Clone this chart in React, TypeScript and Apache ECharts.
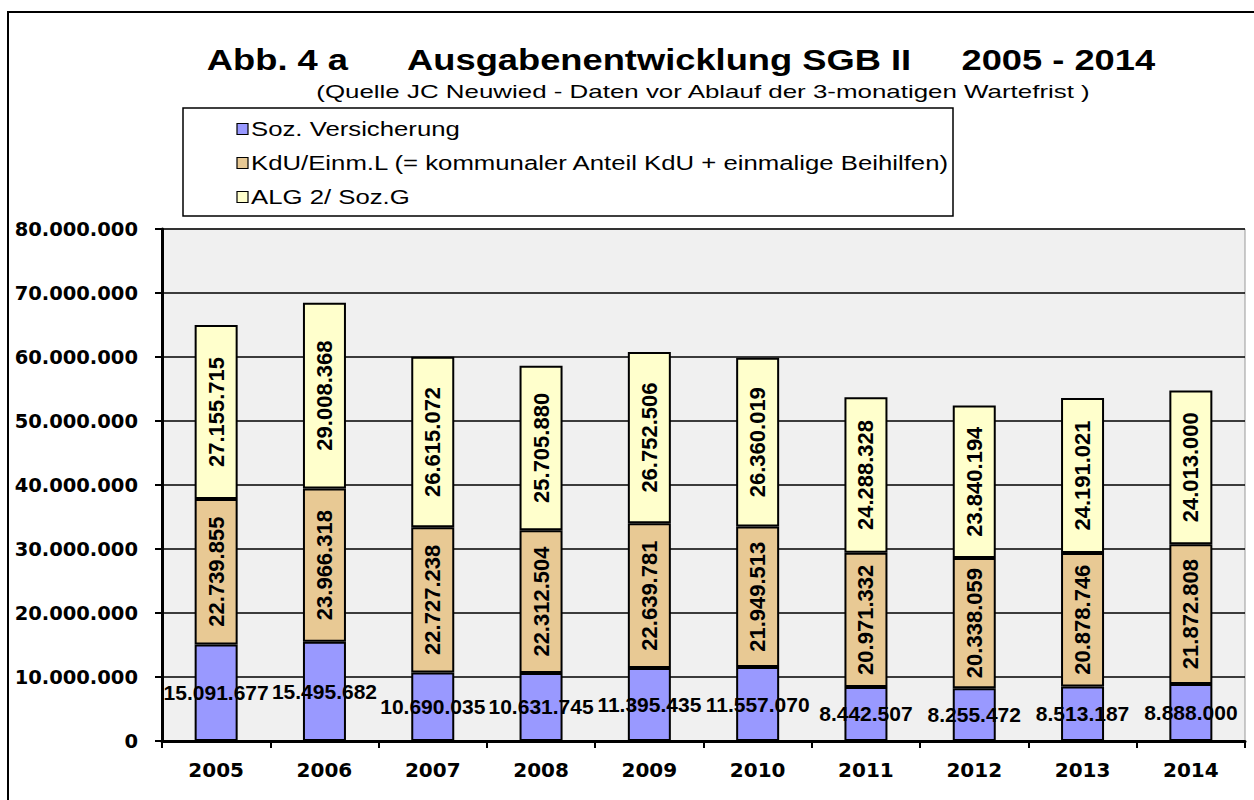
import React, { useEffect, useRef } from "react";
import * as echarts from "echarts";

const years = ["2005", "2006", "2007", "2008", "2009", "2010", "2011", "2012", "2013", "2014"];
const sozVersicherung = [15091677, 15495682, 10690035, 10631745, 11395435, 11557070, 8442507, 8255472, 8513187, 8888000];
const kduEinm = [22739855, 23966318, 22727238, 22312504, 22639781, 21949513, 20971332, 20338059, 20878746, 21872808];
const alg2 = [27155715, 29008368, 26615072, 25705880, 26752506, 26360019, 24288328, 23840194, 24191021, 24013000];
const seriesNames = [
  "Soz. Versicherung",
  "KdU/Einm.L (= kommunaler Anteil KdU + einmalige Beihilfen)",
  "ALG 2/ Soz.G",
];
const seriesColors = ["#9999ff", "#e8c994", "#ffffcc"];
const titleText = "Abb. 4 a      Ausgabenentwicklung SGB II     2005 - 2014";
const subtitleText = "(Quelle JC Neuwied - Daten vor Ablauf der 3-monatigen Wartefrist )";

const fmt = (v: number) => {
  const s = Math.round(v).toString();
  return s.replace(/\B(?=(\d{3})+(?!\d))/g, ".");
};

const FONT = "'Liberation Sans', Arial, sans-serif";
const WIDE = "'DejaVu Sans', sans-serif";

export default function App() {
  const ref = useRef<HTMLDivElement>(null);
  useEffect(() => {
    if (!ref.current) return;
    const chart = echarts.init(ref.current, null, { renderer: "svg" });
    const barBase = {
      type: "bar",
      stack: "total",
      barWidth: 43,
    };
    const legendRows = [129, 163, 197];
    const legendGraphics: any[] = [];
    seriesNames.forEach((name, i) => {
      legendGraphics.push({
        type: "rect",
        shape: { x: 237, y: legendRows[i] - 5.5, width: 11, height: 11 },
        style: { fill: seriesColors[i], stroke: "#000", lineWidth: 1.2 },
        z: 2,
      });
      legendGraphics.push({
        type: "text",
        x: 251,
        y: legendRows[i],
        scaleX: 1.32,
        z: 2,
        style: {
          text: name,
          font: `19.5px ${FONT}`,
          fill: "#000",
          textAlign: "left",
          textVerticalAlign: "middle",
        },
      });
    });
    chart.setOption({
      animation: false,
      backgroundColor: "#fff",
      textStyle: { fontFamily: FONT },
      graphic: [
        {
          type: "rect",
          shape: { x: 8, y: 12, width: 1260, height: 800 },
          style: { fill: "none", stroke: "#000", lineWidth: 2 },
          silent: true,
          z: -1,
        },
        {
          type: "rect",
          shape: { x: 183, y: 108, width: 770, height: 108 },
          style: { fill: "#fff", stroke: "#000", lineWidth: 1.5 },
          silent: true,
          z: 1,
        },
        ...legendGraphics,
        {
          type: "text",
          x: 681,
          y: 60,
          scaleX: 1.21,
          style: {
            text: titleText,
            font: `bold 30px ${FONT}`,
            fill: "#000",
            textAlign: "center",
            textVerticalAlign: "middle",
          },
        },
        {
          type: "text",
          x: 703,
          y: 92,
          scaleX: 1.44,
          style: {
            text: subtitleText,
            font: `18px ${FONT}`,
            fill: "#000",
            textAlign: "center",
            textVerticalAlign: "middle",
          },
        },
      ],
      grid: {
        left: 162,
        top: 229,
        right: 9,
        bottom: 59,
        show: true,
        backgroundColor: "#f0f0f0",
        borderColor: "#999",
        borderWidth: 1,
      },
      xAxis: {
        type: "category",
        data: years,
        axisLine: { lineStyle: { color: "#000", width: 3 } },
        axisTick: { show: true, lineStyle: { color: "#000", width: 2 }, length: 7 },
        axisLabel: { fontSize: 20, fontWeight: "bold", color: "#000", margin: 19, fontFamily: WIDE },
      },
      yAxis: {
        type: "value",
        min: 0,
        max: 80000000,
        interval: 10000000,
        axisLine: { show: true, lineStyle: { color: "#000", width: 3 } },
        axisTick: { show: true, lineStyle: { color: "#000", width: 2 }, length: 7 },
        axisLabel: {
          fontSize: 19.5,
          fontWeight: "bold",
          color: "#000",
          margin: 24,
          fontFamily: WIDE,
          formatter: (v: number) => fmt(v),
        },
        splitLine: { lineStyle: { color: "#000", width: 1.5 } },
      },
      series: [
        {
          ...barBase,
          name: seriesNames[0],
          data: sozVersicherung,
          itemStyle: { color: seriesColors[0], borderColor: "#000", borderWidth: 2 },
          label: {
            show: true,
            position: "inside",
            fontSize: 21,
            fontWeight: "bold",
            color: "#000",
            fontFamily: FONT,
            formatter: (p: any) => fmt(p.value),
          },
        },
        {
          ...barBase,
          name: seriesNames[1],
          data: kduEinm,
          itemStyle: { color: seriesColors[1], borderColor: "#000", borderWidth: 2 },
          label: {
            show: true,
            position: "inside",
            rotate: 90,
            fontSize: 22,
            fontWeight: "bold",
            color: "#000",
            fontFamily: FONT,
            formatter: (p: any) => fmt(p.value),
          },
        },
        {
          ...barBase,
          name: seriesNames[2],
          data: alg2,
          itemStyle: { color: seriesColors[2], borderColor: "#000", borderWidth: 2 },
          label: {
            show: true,
            position: "inside",
            rotate: 90,
            fontSize: 22,
            fontWeight: "bold",
            color: "#000",
            fontFamily: FONT,
            formatter: (p: any) => fmt(p.value),
          },
        },
      ],
    });
    return () => chart.dispose();
  }, []);
  return (
    <div
      ref={ref}
      style={{ position: "absolute", left: 0, top: 0, width: 1254, height: 800 }}
    />
  );
}
